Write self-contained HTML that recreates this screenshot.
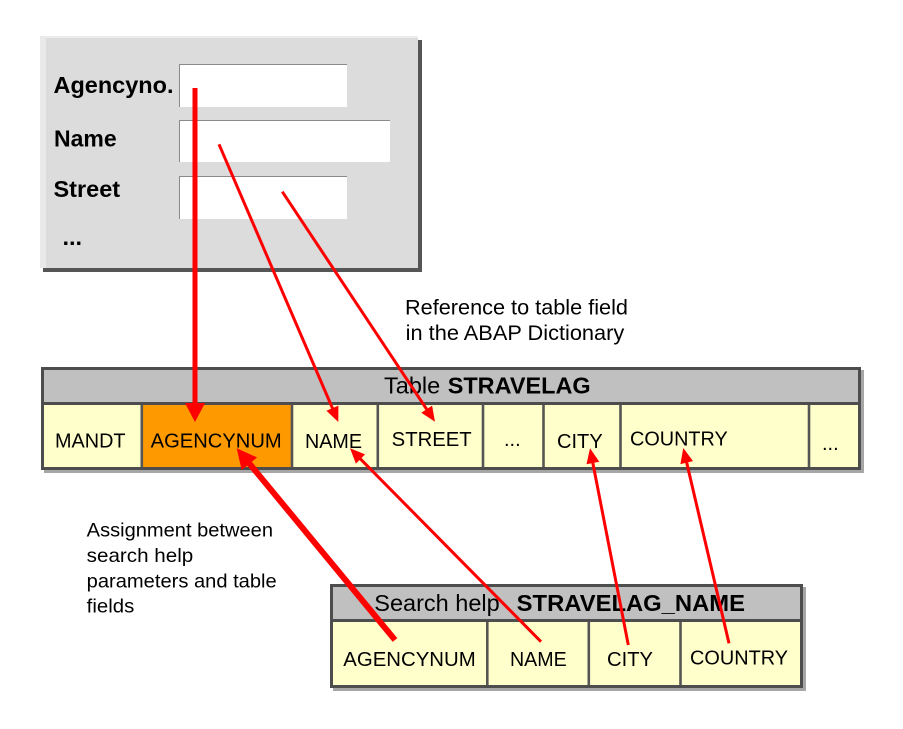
<!DOCTYPE html>
<html><head><meta charset="utf-8"><style>
html,body{margin:0;padding:0;background:#fff;}
svg{display:block;font-family:"Liberation Sans",Arial,sans-serif;}
</style></head><body>
<svg width="903" height="729" viewBox="0 0 903 729" xmlns="http://www.w3.org/2000/svg">
<!-- form panel -->
<rect x="43" y="40" width="379" height="232" fill="#555"/>
<rect x="40" y="36" width="378" height="232" fill="#dcdcdc"/>
<rect x="40" y="36" width="378" height="2" fill="#ececec"/>
<rect x="40" y="36" width="6" height="232" fill="#e9e9e9"/>
<!-- fields -->
<rect x="179" y="64" width="168" height="43" fill="#fff"/>
<path d="M179.5 107V64.5H347" stroke="#8a8a8a" stroke-width="1" fill="none"/>
<rect x="179" y="120" width="211" height="42" fill="#fff"/>
<path d="M179.5 162V120.5H390" stroke="#8a8a8a" stroke-width="1" fill="none"/>
<rect x="179" y="176" width="168" height="43" fill="#fff"/>
<path d="M179.5 219V176.5H347" stroke="#8a8a8a" stroke-width="1" fill="none"/>
<g font-weight="bold" font-size="23.5" fill="#000">
<text x="53.5" y="93" textLength="120" lengthAdjust="spacingAndGlyphs">Agencyno.</text>
<text x="54" y="146.7" textLength="62.7" lengthAdjust="spacingAndGlyphs">Name</text>
<text x="53.5" y="197">Street</text>
<text x="62.5" y="245">...</text>
</g>

<!-- reference text -->
<g font-size="21.5" fill="#000">
<text x="405" y="314.3" textLength="223" lengthAdjust="spacingAndGlyphs">Reference to table field</text>
<text x="405.7" y="340" textLength="218.6" lengthAdjust="spacingAndGlyphs">in the ABAP  Dictionary</text>
</g>

<!-- Table STRAVELAG -->
<rect x="44" y="370" width="820" height="103" fill="#a6a6a6"/>
<rect x="42.5" y="368.5" width="817" height="100" fill="#ffffcc" stroke="#4d4d4d" stroke-width="3"/>
<rect x="44" y="370" width="814" height="33" fill="#c0c0c0"/>
<rect x="143" y="405" width="148" height="62" fill="#ff9900"/>
<line x1="44" y1="403.5" x2="858" y2="403.5" stroke="#4d4d4d" stroke-width="3"/>
<g stroke="#555" stroke-width="2.6">
<line x1="141.8" y1="405" x2="141.8" y2="467"/>
<line x1="292" y1="405" x2="292" y2="467"/>
<line x1="377.8" y1="405" x2="377.8" y2="467"/>
<line x1="483" y1="405" x2="483" y2="467"/>
<line x1="543.5" y1="405" x2="543.5" y2="467"/>
<line x1="620.5" y1="405" x2="620.5" y2="467"/>
<line x1="809" y1="405" x2="809" y2="467"/>
</g>
<text x="384" y="393.5" font-size="23.5" fill="#000">Table</text>
<text x="447.7" y="393.5" font-size="23.5" font-weight="bold" fill="#000" textLength="143" lengthAdjust="spacingAndGlyphs">STRAVELAG</text>
<g font-size="20" fill="#000">
<text x="55" y="447.3" textLength="70.5" lengthAdjust="spacingAndGlyphs">MANDT</text>
<text x="150.7" y="447.3" textLength="131" lengthAdjust="spacingAndGlyphs">AGENCYNUM</text>
<text x="305" y="448" textLength="57" lengthAdjust="spacingAndGlyphs">NAME</text>
<text x="391.7" y="446" textLength="80" lengthAdjust="spacingAndGlyphs">STREET</text>
<text x="504" y="446">...</text>
<text x="557" y="448" textLength="45.7" lengthAdjust="spacingAndGlyphs">CITY</text>
<text x="630" y="445.7" textLength="97.7" lengthAdjust="spacingAndGlyphs">COUNTRY</text>
<text x="822" y="450">...</text>
</g>

<!-- Assignment text -->
<g font-size="19.5" fill="#000">
<text x="86.7" y="536.7" textLength="186.3" lengthAdjust="spacingAndGlyphs">Assignment  between</text>
<text x="86.7" y="562" textLength="106.6" lengthAdjust="spacingAndGlyphs">search help</text>
<text x="86.7" y="587.3" textLength="190" lengthAdjust="spacingAndGlyphs">parameters  and table</text>
<text x="86.7" y="612.7" textLength="47.6" lengthAdjust="spacingAndGlyphs">fields</text>
</g>

<!-- Search help table -->
<rect x="333" y="587" width="473" height="104" fill="#a6a6a6"/>
<rect x="331.5" y="585.5" width="470" height="101" fill="#ffffcc" stroke="#4d4d4d" stroke-width="3"/>
<rect x="333" y="587" width="467" height="33" fill="#c0c0c0"/>
<line x1="333" y1="620.5" x2="800" y2="620.5" stroke="#4d4d4d" stroke-width="3"/>
<g stroke="#555" stroke-width="2.6">
<line x1="487.3" y1="622" x2="487.3" y2="685"/>
<line x1="588.8" y1="622" x2="588.8" y2="685"/>
<line x1="680.5" y1="622" x2="680.5" y2="685"/>
</g>
<text x="374.3" y="611" font-size="23.5" fill="#000">Search help</text>
<text x="516.7" y="611" font-size="23.5" font-weight="bold" fill="#000" textLength="228.3" lengthAdjust="spacingAndGlyphs">STRAVELAG_NAME</text>
<g font-size="20" fill="#000">
<text x="343.3" y="666" textLength="132.4" lengthAdjust="spacingAndGlyphs">AGENCYNUM</text>
<text x="510" y="666" textLength="56.7" lengthAdjust="spacingAndGlyphs">NAME</text>
<text x="607" y="666" textLength="46" lengthAdjust="spacingAndGlyphs">CITY</text>
<text x="690" y="664.3" textLength="98" lengthAdjust="spacingAndGlyphs">COUNTRY</text>
</g>

<!-- red connectors -->
<g stroke="#ff0000" fill="none" stroke-linecap="butt">
<line x1="195" y1="88" x2="195" y2="406" stroke-width="5"/>
<line x1="219" y1="144.3" x2="333" y2="409.5" stroke-width="3"/>
<line x1="282.3" y1="191.7" x2="427.5" y2="410.5" stroke-width="3"/>
<line x1="395" y1="640" x2="248.5" y2="462.5" stroke-width="6"/>
<line x1="541" y1="641.7" x2="359.8" y2="458.3" stroke-width="3"/>
<line x1="628.3" y1="645" x2="592.6" y2="461.8" stroke-width="3"/>
<line x1="729" y1="643.3" x2="686.4" y2="461.4" stroke-width="3"/>
</g>
<g fill="#ff0000">
<polygon points="195,422 185,403 205,403"/>
<polygon points="338.3,422 326.4,410.8 338.4,405.6"/>
<polygon points="435,421.7 421.3,412.8 432.1,405.6"/>
<polygon points="236.7,448.3 257.1,457.4 241.7,470.1"/>
<polygon points="350,448.3 365.1,454.4 355.9,463.6"/>
<polygon points="590,448.3 599.3,461.8 586.5,464.2"/>
<polygon points="683.3,448 693,461.1 680.4,464.1"/>
</g>
</svg>
</body></html>
